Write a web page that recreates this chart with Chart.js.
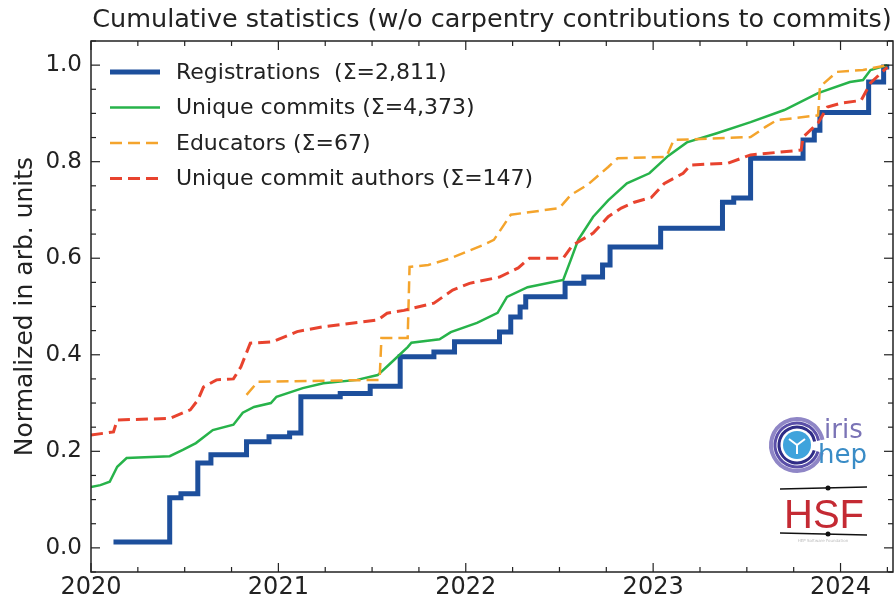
<!DOCTYPE html>
<html>
<head>
<meta charset="utf-8">
<script src="https://cdn.jsdelivr.net/npm/chart.js@4.4.1/dist/chart.umd.min.js"></script>
<style>
  html, body { margin: 0; padding: 0; background: #fff; }
  #wrap { width: 896px; height: 600px; }
</style>
</head>
<body>
<div id="wrap"><canvas id="cumChart"></canvas></div>
<script>
// tick labels
const xTicks = [2020, 2021, 2022, 2023, 2024];
const yTicks = [0.0, 0.2, 0.4, 0.6, 0.8, 1.0];

// Registrations (step line, value jumps at x)
const regX = [2020.12, 2020.42, 2020.48, 2020.57, 2020.64, 2020.83, 2020.95, 2021.06, 2021.12, 2021.33, 2021.49,
              2021.65, 2021.83, 2021.94, 2022.18, 2022.24, 2022.29, 2022.32, 2022.53, 2022.63, 2022.73, 2022.77,
              2023.04, 2023.37, 2023.43, 2023.52, 2023.80, 2023.86, 2023.89, 2024.15, 2024.23, 2024.26];
const regY = [0.012, 0.104, 0.112, 0.176, 0.193, 0.220, 0.230, 0.238, 0.313, 0.320, 0.335,
              0.396, 0.406, 0.427, 0.447, 0.478, 0.499, 0.520, 0.548, 0.561, 0.586, 0.623,
              0.662, 0.716, 0.725, 0.807, 0.845, 0.865, 0.902, 0.965, 0.996, 0.996];

// Unique commits
const comX = [2020.00, 2020.05, 2020.10, 2020.14, 2020.19, 2020.42, 2020.49, 2020.56, 2020.65, 2020.76, 2020.81,
              2020.87, 2020.96, 2020.99, 2021.13, 2021.24, 2021.42, 2021.53, 2021.60, 2021.69, 2021.71, 2021.86,
              2021.92, 2022.06, 2022.17, 2022.22, 2022.33, 2022.52, 2022.56, 2022.60, 2022.68, 2022.76, 2022.86,
              2022.98, 2023.08, 2023.18, 2023.34, 2023.52, 2023.70, 2023.88, 2024.05, 2024.12, 2024.16, 2024.25];
const comY = [0.126, 0.130, 0.137, 0.168, 0.186, 0.190, 0.203, 0.217, 0.244, 0.255, 0.280,
              0.292, 0.300, 0.313, 0.331, 0.341, 0.348, 0.358, 0.383, 0.416, 0.425, 0.432,
              0.447, 0.466, 0.487, 0.520, 0.540, 0.555, 0.596, 0.638, 0.686, 0.720, 0.755,
              0.776, 0.812, 0.840, 0.859, 0.882, 0.907, 0.942, 0.965, 0.969, 0.990, 1.000];

// Educators
const eduX = [2020.83, 2020.89, 2021.54, 2021.55, 2021.69, 2021.70, 2021.80, 2021.92, 2022.09, 2022.15, 2022.24,
              2022.50, 2022.56, 2022.65, 2022.76, 2022.81, 2023.07, 2023.11, 2023.52, 2023.60, 2023.66, 2023.88,
              2023.89, 2023.98, 2024.12, 2024.25];
const eduY = [0.317, 0.344, 0.348, 0.435, 0.435, 0.582, 0.586, 0.600, 0.627, 0.638, 0.690,
              0.704, 0.731, 0.752, 0.789, 0.807, 0.810, 0.845, 0.851, 0.872, 0.886, 0.896,
              0.955, 0.986, 0.990, 1.000];

// Unique commit authors
const autX = [2020.00, 2020.12, 2020.14, 2020.42, 2020.53, 2020.57, 2020.60, 2020.67, 2020.76, 2020.80, 2020.85,
              2020.97, 2021.10, 2021.24, 2021.53, 2021.58, 2021.67, 2021.83, 2021.93, 2022.02, 2022.18, 2022.28,
              2022.34, 2022.52, 2022.57, 2022.68, 2022.76, 2022.83, 2022.90, 2022.99, 2023.06, 2023.16, 2023.20,
              2023.40, 2023.52, 2023.79, 2023.80, 2023.88, 2023.93, 2024.00, 2024.11, 2024.16, 2024.25];
const autY = [0.234, 0.240, 0.265, 0.268, 0.286, 0.306, 0.333, 0.348, 0.350, 0.375, 0.424,
              0.427, 0.448, 0.458, 0.472, 0.486, 0.492, 0.507, 0.534, 0.548, 0.561, 0.580,
              0.600, 0.600, 0.627, 0.652, 0.686, 0.704, 0.716, 0.726, 0.755, 0.776, 0.793,
              0.797, 0.814, 0.824, 0.851, 0.880, 0.913, 0.921, 0.927, 0.963, 0.996];

const seriesLabels = ['Registrations  (\u03a3=2,811)', 'Unique commits (\u03a3=4,373)',
                      'Educators (\u03a3=67)', 'Unique commit authors (\u03a3=147)'];

const pts = (xs, ys) => xs.map((x, i) => ({ x: x, y: ys[i] }));
const FONT = 'DejaVu Sans';

// frame, inward ticks (matplotlib style), legend and logos
const decorPlugin = {
    id: 'decor',
    afterDraw(chart) {
        const ctx = chart.ctx;
        const a = chart.chartArea;
        const xs = chart.scales.x, ys = chart.scales.y;
        ctx.save();
        ctx.strokeStyle = '#222';
        ctx.lineWidth = 1.5;
        ctx.strokeRect(a.left, a.top, a.right - a.left, a.bottom - a.top);

        ctx.lineWidth = 1.2;
        const tick = (x1, y1, x2, y2) => { ctx.beginPath(); ctx.moveTo(x1, y1); ctx.lineTo(x2, y2); ctx.stroke(); };
        for (let q = 0; q <= 17; q++) {
            const v = 2020 + q * 0.25;
            if (v > xs.max) break;
            const px = xs.getPixelForValue(v);
            const len = (q % 4 === 0) ? 9 : 5;
            tick(px, a.bottom, px, a.bottom - len);
            tick(px, a.top, px, a.top + len);
        }
        for (let k = -1; k <= 21; k++) {
            const v = k * 0.05;
            if (v < ys.min || v > ys.max) continue;
            const py = ys.getPixelForValue(v);
            const len = (k % 4 === 0) ? 9 : 5;
            tick(a.left, py, a.left + len, py);
            tick(a.right, py, a.right - len, py);
        }

        // legend inside the plot
        ctx.font = '22px "' + FONT + '"';
        ctx.textBaseline = 'middle';
        ctx.fillStyle = '#222';
        chart.data.datasets.forEach((ds, i) => {
            const y = 72 + i * 35.5;
            ctx.beginPath();
            ctx.strokeStyle = ds.borderColor;
            ctx.lineWidth = ds.borderWidth;
            ctx.setLineDash(ds.borderDash || []);
            ctx.moveTo(110, y);
            ctx.lineTo(160, y);
            ctx.stroke();
            ctx.setLineDash([]);
            ctx.fillText(seriesLabels[i], 176, y + 1);
        });

        // iris-hep logo
        const cx = 797, cy = 445;
        [[26, '#8f86c6', 4], [22, '#5a4fa8', 3], [18, '#2f2c86', 3]].forEach(r => {
            ctx.beginPath();
            ctx.strokeStyle = r[1];
            ctx.lineWidth = r[2];
            ctx.arc(cx, cy, r[0], 0.3, Math.PI * 2 - 0.2);
            ctx.stroke();
        });
        ctx.beginPath();
        ctx.fillStyle = '#3fa3dc';
        ctx.arc(cx, cy, 14, 0, Math.PI * 2);
        ctx.fill();
        ctx.strokeStyle = '#fff';
        ctx.lineWidth = 2;
        ctx.beginPath();
        ctx.moveTo(cx - 8, cy - 6); ctx.lineTo(cx, cy); ctx.lineTo(cx + 8, cy - 6);
        ctx.moveTo(cx, cy); ctx.lineTo(cx, cy + 9);
        ctx.stroke();
        ctx.font = '26px "' + FONT + '"';
        ctx.textBaseline = 'alphabetic';
        ctx.fillStyle = '#7b74b6';
        ctx.fillText('iris', 824, 438);
        ctx.fillStyle = '#3a8cc6';
        ctx.fillText('hep', 818, 463);

        // HSF logo
        ctx.strokeStyle = '#111';
        ctx.lineWidth = 1.5;
        tick(780, 489, 867, 487);
        tick(780, 533, 867, 535);
        ctx.fillStyle = '#111';
        [[828, 488], [828, 534]].forEach(p => { ctx.beginPath(); ctx.arc(p[0], p[1], 2.5, 0, Math.PI * 2); ctx.fill(); });
        ctx.font = '40px "Liberation Sans Narrow", "Liberation Sans"';
        ctx.fillStyle = '#c42a33';
        ctx.textAlign = 'center';
        ctx.fillText('HSF', 824, 528);
        ctx.font = '4px "' + FONT + '"';
        ctx.fillStyle = '#bbb';
        ctx.fillText('HEP Software Foundation', 823, 542);
        ctx.restore();
    }
};

new Chart(document.getElementById('cumChart').getContext('2d'), {
    type: 'line',
    data: {
        datasets: [
            { label: seriesLabels[0], data: pts(regX, regY), stepped: true, borderColor: '#1d4f9c', borderWidth: 5, order: 4 },
            { label: seriesLabels[1], data: pts(comX, comY), borderColor: '#27b34a', borderWidth: 2.5, order: 3 },
            { label: seriesLabels[2], data: pts(eduX, eduY), borderColor: '#f4a42c', borderWidth: 2.5, borderDash: [12, 6], order: 2 },
            { label: seriesLabels[3], data: pts(autX, autY), borderColor: '#e8432e', borderWidth: 3, borderDash: [12, 6], order: 1 }
        ]
    },
    options: {
        responsive: true,
        maintainAspectRatio: false,
        animation: false,
        layout: { padding: { top: 0, right: 3, left: 0, bottom: 0 } },
        elements: { point: { radius: 0 }, line: { tension: 0, fill: false } },
        plugins: {
            legend: { display: false },
            tooltip: { enabled: false },
            title: {
                display: true,
                fullSize: false,
                text: 'Cumulative statistics (w/o carpentry contributions to commits)',
                color: '#222',
                font: { family: FONT, size: 25.5, weight: 'normal' },
                padding: { top: 5, bottom: 5.4 }
            }
        },
        scales: {
            x: {
                type: 'linear',
                min: 2020,
                max: 2024.28,
                grid: { display: false, drawTicks: false },
                border: { display: false },
                afterBuildTicks: s => { s.ticks = xTicks.map(v => ({ value: v })); },
                afterFit: s => { s.height = 28; },
                ticks: {
                    padding: 1,
                    color: '#222',
                    maxRotation: 0,
                    font: { family: FONT, size: 24 },
                    callback: v => String(v)
                }
            },
            y: {
                min: -0.05,
                max: 1.05,
                grid: { display: false, drawTicks: false },
                border: { display: false },
                afterBuildTicks: s => { s.ticks = yTicks.map(v => ({ value: v })); },
                afterFit: s => { s.width = 91; },
                ticks: {
                    padding: 9,
                    color: '#222',
                    font: { family: FONT, size: 23 },
                    callback: v => v.toFixed(1)
                },
                title: {
                    display: true,
                    text: 'Normalized in arb. units',
                    color: '#222',
                    font: { family: FONT, size: 25 },
                    padding: { top: 10, bottom: 0 }
                }
            }
        }
    },
    plugins: [decorPlugin]
});
</script>
</body>
</html>
